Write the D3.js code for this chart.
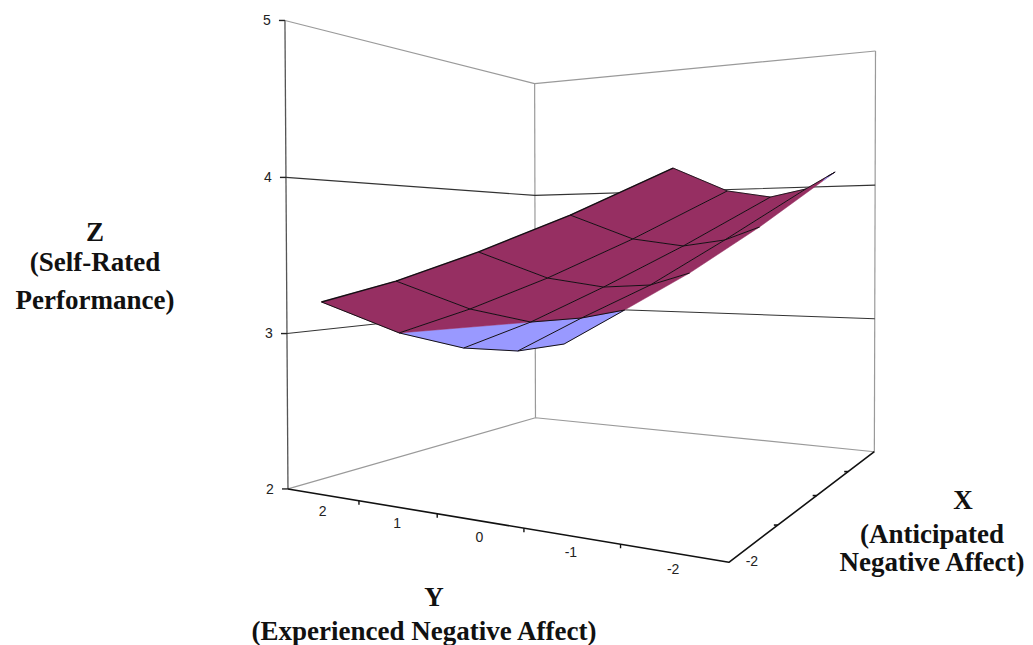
<!DOCTYPE html><html><head><meta charset="utf-8"><style>html,body{margin:0;background:#fff}svg{display:block}</style></head><body>
<script src="https://cdn.jsdelivr.net/npm/d3@7"></script>
<script>
// Regression surface: self-rated performance (Z) at each X / Y grid value
const xGrid = [-2, -1, 0, 1, 2];
const yGrid = [2, 1, 0, -1, -2];
const zAtXm2 = [3.211, 3.352, 3.527, 3.726, 3.954];
const zAtXm1 = [2.957, 3.141, 3.355, 3.599, 3.870];
const zAtX0  = [2.783, 3.002, 3.268, 3.553, 3.863];
const zAtX1  = [2.689, 2.981, 3.253, 3.593, 3.947];
const zAtX2  = [2.679, 2.999, 3.323, 3.696, 4.109];
const zRows = [zAtXm2, zAtXm1, zAtX0, zAtX1, zAtX2];

const zTicks = [2, 3, 4, 5];
const yTickMarks = [1.5, 0.5, -0.5, -1.5];
const xTickMarks = [-1, 0, 1];
const yLabels = [2, 1, 0, -1, -2];
const xLabels = [-2];
const xDomain = [-2, 2], yDomain = [2.5, -2.5], zDomain = [2, 5];

// cells [xIndex, yIndex] whose underside shows
const undersideCells = [[2, 0], [3, 0]];
const foldedCells = [[1, 0]];

const W = 1033, H = 645;
const svg = d3.select("body").append("svg").attr("width", W).attr("height", H);

const sx = d3.scaleLinear().domain(xDomain).range([0, 1]);
const sy = d3.scaleLinear().domain(yDomain).range([0, 1]);
const sz = d3.scaleLinear().domain(zDomain).range([0, 1]);

// perspective camera, fitted to the box of the reference
const camA = [271.423, 462.159, -5.172, 287.982];
const camB = [-57.389, 96.252, -468.619, 488.932];
const camC = [-0.23251, 0.40088, -0.00746];
function project(x, y, z) {
  const u = sy(y), v = sx(x), w = sz(z);
  const d = camC[0]*u + camC[1]*v + camC[2]*w + 1;
  return [(camA[0]*u + camA[1]*v + camA[2]*w + camA[3]) / d,
          (camB[0]*u + camB[1]*v + camB[2]*w + camB[3]) / d];
}
const line = d3.line();
const [xLo, xHi] = xDomain, [yLo, yHi] = yDomain, [zLo, zHi] = zDomain;

function seg(g, pts, stroke, width) {
  g.append("path").attr("d", line(pts)).attr("fill", "none")
    .attr("stroke", stroke).attr("stroke-width", width).attr("stroke-linejoin", "round");
}

// ----- box -----
const box = svg.append("g");
const WALL = "#9a9a9a";
seg(box, [project(xLo, yLo, zLo), project(xHi, yLo, zLo), project(xHi, yHi, zLo)], WALL, 1.2);
seg(box, [project(xLo, yLo, zHi), project(xHi, yLo, zHi), project(xHi, yHi, zHi)], WALL, 1.2);
seg(box, [project(xHi, yLo, zLo), project(xHi, yLo, zHi)], WALL, 1.2);
seg(box, [project(xHi, yHi, zLo), project(xHi, yHi, zHi)], WALL, 1.2);
seg(box, [project(xLo, yLo, zLo), project(xLo, yLo, zHi)], "#555", 1.3);
zTicks.filter(z => z > zLo && z < zHi).forEach(z =>
  seg(box, [project(xLo, yLo, z), project(xHi, yLo, z), project(xHi, yHi, z)], "#333", 1.1));
seg(box, [project(xLo, yLo, zLo), project(xLo, yHi, zLo), project(xHi, yHi, zLo)], "#111", 1.6);

// ticks
const ticks = svg.append("g");
zTicks.forEach(z => {
  const p = project(xLo, yLo, z);
  seg(ticks, [p, [p[0] - 6, p[1]]], "#222", 1.4);
  ticks.append("text").attr("x", p[0] - 18).attr("y", p[1]).attr("dy", "0.35em")
    .attr("text-anchor", "middle").attr("font-family", "Liberation Sans").attr("font-size", 14)
    .attr("fill", "#222").text(z);
});
yTickMarks.forEach(y => {
  const p = project(xLo, y, zLo);
  seg(ticks, [p, [p[0], p[1] + 4]], "#111", 1.4);
});
xTickMarks.forEach(x => {
  const p = project(x, yHi, zLo);
  seg(ticks, [p, [p[0] - 4, p[1]]], "#111", 1.6);
});
yLabels.forEach(y => {
  const p = project(xLo, y, zLo);
  ticks.append("text").attr("x", p[0]).attr("y", p[1] + 16).attr("dy", "0.35em")
    .attr("text-anchor", "middle").attr("font-family", "Liberation Sans").attr("font-size", 14)
    .attr("fill", "#222").text(y);
});
xLabels.forEach(x => {
  const p = project(x, yHi, zLo);
  ticks.append("text").attr("x", p[0] + 23).attr("y", p[1] - 1).attr("dy", "0.35em")
    .attr("text-anchor", "middle").attr("font-family", "Liberation Sans").attr("font-size", 14)
    .attr("fill", "#222").text(x);
});

// ----- surface -----
const PURPLE = "#962f62", BLUE = "#9999ff", MESH = "#141014";
const node = (i, j) => project(xGrid[i], yGrid[j], zRows[i][j]);
const surf = svg.append("g");
const isIn = (list, i, j) => list.some(c => c[0] === i && c[1] === j);
function face(pts, fill) {
  surf.append("path").attr("d", line(pts) + "Z").attr("fill", fill)
    .attr("stroke", fill).attr("stroke-width", 0.5);
}
const cells = d3.cross(d3.range(xGrid.length - 1), d3.range(yGrid.length - 1));
// underside first
cells.forEach(([i, j]) => {
  if (isIn(undersideCells, i, j))
    face([node(i, j), node(i + 1, j), node(i + 1, j + 1), node(i, j + 1)], BLUE);
  if (isIn(foldedCells, i, j))
    face([node(i, j), node(i + 1, j), node(i + 1, j + 1)], BLUE);
});
// top side over it
cells.forEach(([i, j]) => {
  if (isIn(undersideCells, i, j)) return;
  if (isIn(foldedCells, i, j))
    face([node(i, j), node(i + 1, j + 1), node(i, j + 1)], PURPLE);
  else
    face([node(i, j), node(i + 1, j), node(i + 1, j + 1), node(i, j + 1)], PURPLE);
});
// blue tip of the far corner
const last = xGrid.length - 1;
const tipFrac = 0.72;
const mix = (a, b, t) => [a[0] + (b[0] - a[0]) * t, a[1] + (b[1] - a[1]) * t];
const tipA = mix(node(last - 1, last), node(last, last), tipFrac);
const tipB = mix(node(last, last - 1), node(last, last), tipFrac + 0.12);
face([tipA, node(last, last), tipB], BLUE);

// mesh lines
xGrid.forEach((x, i) => {
  const js = i === last ? [0, 1] : d3.range(yGrid.length);
  seg(surf, js.map(j => node(i, j)), MESH, i === 0 ? 1.4 : 1);
});
yGrid.forEach((y, j) => {
  seg(surf, xGrid.map((x, i) => node(i, j)), MESH, j === last ? 0.9 : 1);
});
seg(surf, [tipA, node(last, last)], MESH, 1);

// ----- axis titles -----
const titles = [
  ["Z", 95, 241], ["(Self-Rated", 95, 271], ["Performance)", 95, 309],
  ["X", 963, 509], ["(Anticipated", 932, 543], ["Negative Affect)", 932, 571],
  ["Y", 434, 606], ["(Experienced Negative Affect)", 424, 640]
];
svg.append("g").selectAll("text").data(titles).join("text")
  .attr("x", d => d[1]).attr("y", d => d[2]).attr("text-anchor", "middle")
  .attr("font-family", "Liberation Serif").attr("font-weight", "bold")
  .attr("font-size", 27).attr("fill", "#111").text(d => d[0]);
</script></body></html>
